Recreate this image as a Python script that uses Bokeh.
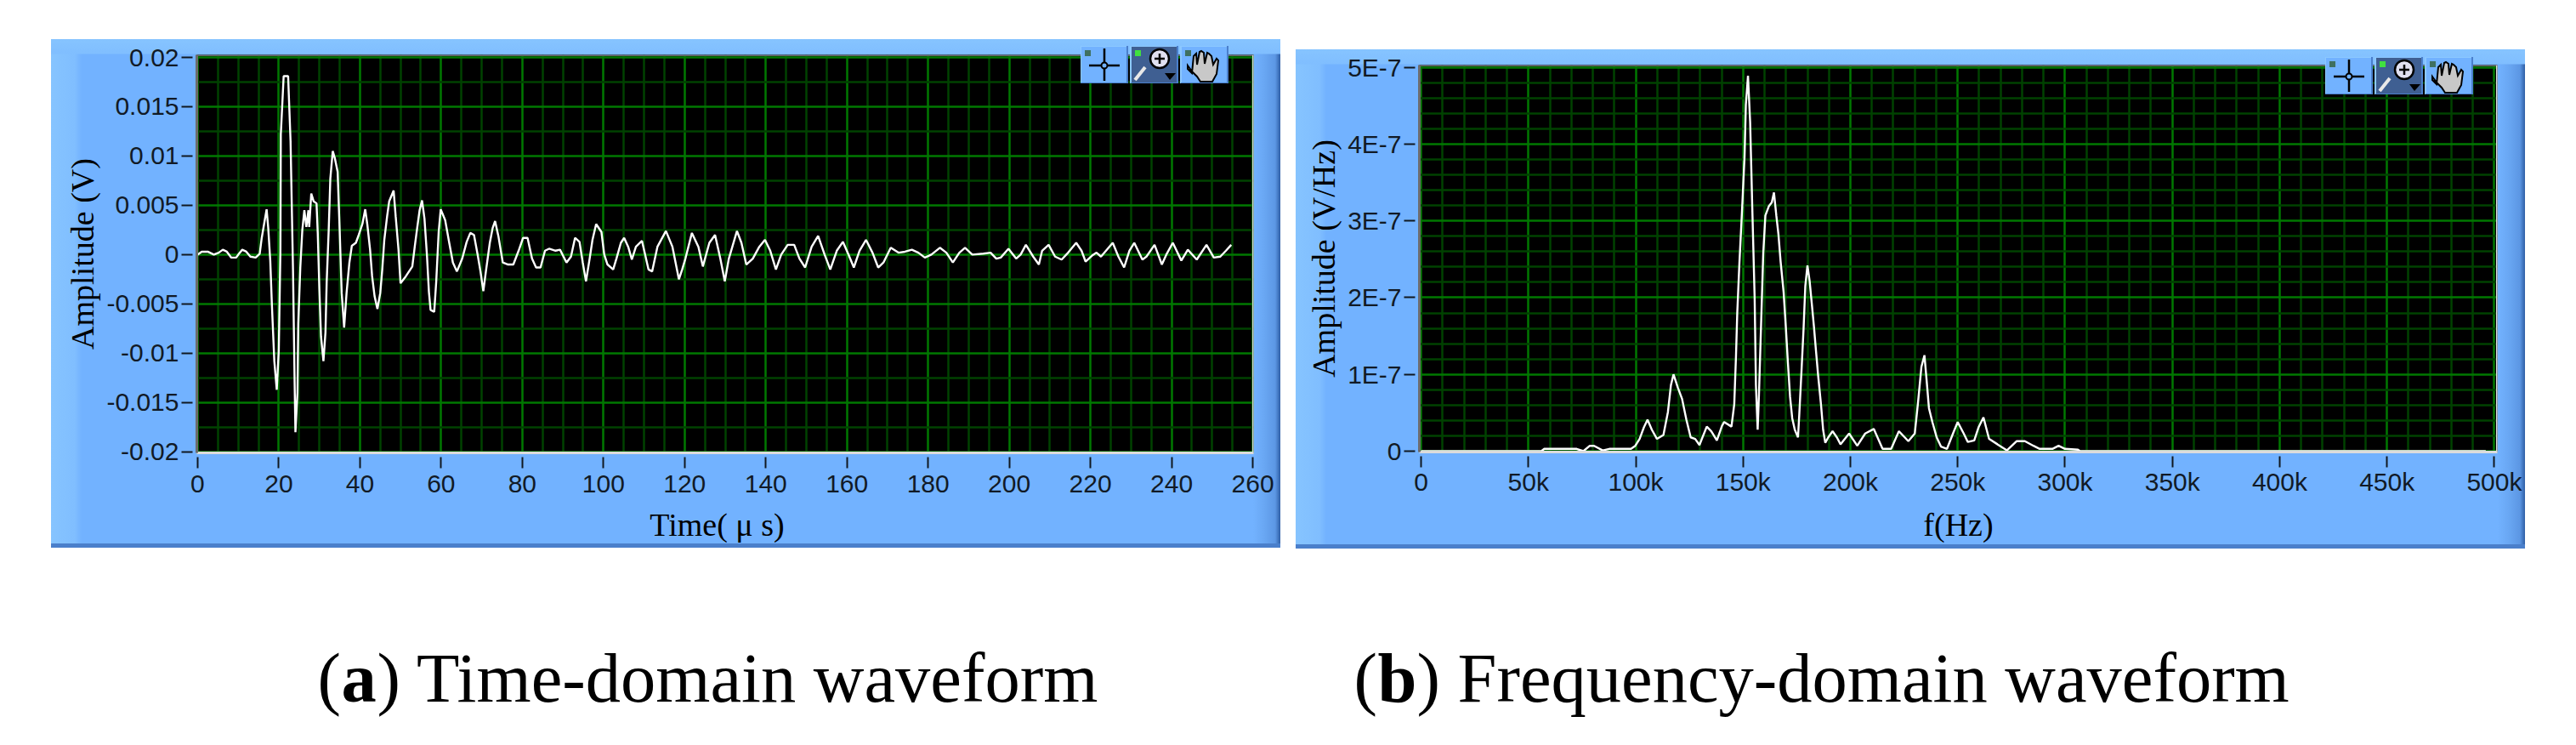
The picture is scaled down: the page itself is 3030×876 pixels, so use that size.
from bokeh.embed import file_html
from bokeh.layouts import column, row
from bokeh.models import Div, FixedTicker, Label, Range1d, Span, Spacer
from bokeh.plotting import figure
from bokeh.resources import INLINE

# time-domain waveform
time_us = [0, 1, 2.5, 4, 5.2, 6.2, 7.2, 8.3, 9.5, 10.2, 11, 12, 13, 14.3, 15.3, 15.8, 16.5, 17, 17.4, 17.9, 18.3,
           18.9, 19.5, 20, 20.4, 20.5, 21.2, 22.3, 22.9, 23.5, 23.9, 24.1, 24.6, 24.8, 25.3, 25.8, 26.3, 26.8, 27.3,
           27.5, 28, 28.6, 29.3, 29.6, 30, 30.4, 31, 31.5, 31.8, 32.3, 32.7, 33.3, 33.8, 34.5, 35, 35.5, 36.1, 36.7,
           37.4, 38, 39, 39.7, 40.6, 41.3, 41.8, 42.5, 43, 43.6, 44.3, 45, 45.5, 46, 46.7, 47.2, 48.3, 48.8, 49.5,
           50, 51.3, 52.9, 53.5, 54.1, 54.7, 55.3, 55.9, 56.5, 57, 57.4, 58.3, 58.8, 59.4, 59.9, 61, 62, 62.9, 63.9,
           65.2, 66.3, 67.2, 68.1, 69, 69.7, 70.4, 71.1, 72, 72.7, 73.3, 74.1, 75.2, 76.5, 77.8, 79.1, 80.2, 81.3,
           82.4, 83.4, 84.5, 85.6, 86.6, 88.2, 89.3, 90.9, 92, 93, 94.1, 94.9, 95.7, 96.6, 97.3, 98.2, 99.5, 100.2,
           101, 102.4, 103.2, 104.3, 105.1, 106.1, 107, 108, 109.5, 111.1, 112, 113.3, 115.4, 117, 118.6, 119.4,
           120.2, 121.8, 123.4, 124.5, 126.1, 127.5, 128.8, 129.9, 130.9, 132.9, 134, 135.2, 136.8, 138.4, 139.8,
           141.1, 142.5, 143.8, 145.4, 147, 148.3, 149.7, 151.3, 152.9, 154.5, 155.9, 157.5, 159, 160.4, 161.7,
           163.1, 164.7, 166.3, 167.7, 169, 170.8, 172.7, 174.3, 176, 177.6, 179.2, 180.8, 182.9, 184.5, 186.1,
           187.7, 189.1, 190.9, 193.6, 195.4, 196.8, 197.9, 199.8, 201.7, 202.8, 204.1, 205.9, 207.3, 208.1, 209.7,
           211.3, 212.9, 214.5, 216.5, 217.8, 218.8, 220.4, 221.5, 222.6, 225.5, 226.9, 228.3, 229.6, 230.8, 232.8,
           233.8, 235.8, 237.6, 238.7, 240.3, 242.4, 244, 246.2, 248.6, 250.4, 252, 253.4, 254.7]
amp_mv = [0, 0.3, 0.3, 0, 0.2, 0.5, 0.3, -0.3, -0.3, 0.1, 0.5, 0.3, -0.2, -0.3, 0.1, 1.7, 3.4, 4.6, 2.7, -0.6, -5.1,
          -10.8, -13.7, -9.7, 0.4, 12.2, 18.1, 18.1, 11.5, -1.5, -12.9, -18, -14, -7, -1.3, 2.5, 4.5, 2.8, 4.5,
          2.8, 6.2, 5.4, 5.2, 2.2, -3.5, -8.3, -10.8, -7.9, -2.8, 2.5, 7.7, 10.5, 9.8, 8.4, 2.5, -3.9, -7.4, -3.9,
          -0.8, 0.9, 1.2, 2, 3.1, 4.6, 3.1, 0.5, -2.2, -4.2, -5.5, -3.9, -1.5, 1.5, 3.9, 5.4, 6.5, 3.9, 0.5,
          -2.9, -2.2, -1.2, 0.8, 2.7, 4.5, 5.5, 3.65, 0, -3.8, -5.6, -5.8, -2.7, 2.3, 4.6, 3.5, 1.2, -0.8, -1.7,
          -0.4, 1.3, 2.2, 2, 0, -1.7, -3.7, -1.5, 1.2, 2.7, 3.4, 1.9, -0.8, -1, -1, 0.4, 1.7, 1.7,
          -0.4, -1.3, -1.3, 0.4, 0.6, 0.4, 0.5, -0.8, -0.2, 1.7, 1.3, -0.8, -2.7, -0.4, 1.5, 3.1, 2.3, 0,
          -1, -1.5, -0.4, 1.2, 1.7, 0.8, -0.5, 0.8, 1.4, -1.5, -1.7, 0.8, 2.4, 0.8, -2.5, -1.5,
          -0.4, 2.2, 0.8, -1.2, 1.2, 2, -0.4, -2.7, -0.4, 2.4, 1.2, -1, -0.4, 0.8, 1.5,
          0.4, -1.5, 0, 1, 1, -0.4, -1.3, 0.8, 1.9, 0, -1.5, 0.4, 1.3, 0, -1.3,
          0.4, 1.5, 0.2, -1.3, -0.8, 0.7, 0.2, 0.3, 0.5, 0.2, -0.3, 0, 0.7, 0.2, -0.8,
          0.2, 0.7, 0, 0.1, 0.2, -0.4, -0.3, 0.6, -0.4, 0, 1, -0.2, -1, 0.4, 1,
          -0.2, -0.5, 0.2, 1.2, 0.4, -0.7, -0.1, 0.2, -0.2, 1.2, -0.2, -1.3, 0.4, 1.2, -0.5,
          -0.2, 1, -1, 0, 1.2, -0.6, 0.5, -0.5, 1, -0.3, -0.2, 0.4, 1]
time_ticks = [0, 20, 40, 60, 80, 100, 120, 140, 160, 180, 200, 220, 240, 260]
time_minor = [t for t in range(0, 261, 5) if t % 20 != 0]
amp_ticks = [-20, -15, -10, -5, 0, 5, 10, 15, 20]
amp_labels = ["-0.02", "-0.015", "-0.01", "-0.005", "0", "0.005", "0.01", "0.015", "0.02"]
amp_minor = [-17.5, -12.5, -7.5, -2.5, 2.5, 7.5, 12.5, 17.5]

# frequency-domain waveform
freq_khz = [0, 56, 57.4, 72.5, 75.6, 78.6, 80.6, 84.6, 87.7, 97.8, 99.8, 101.8, 103.8, 105.5, 107.5, 109.9, 112.9,
            115, 116.4, 117.6, 119.6, 121.6, 123.6, 125.6, 127.7, 129.7, 131.1, 133.1, 135.2, 137.8, 140.2, 141.2,
            144.6, 145.9, 146.7, 147.3, 148.3, 149.5, 150.7, 151.3, 152.3, 153.3, 154.3, 155.4, 156, 156.8, 157.4,
            158.4, 159.4, 160.4, 162, 163.4, 164.4, 165.5, 166.5, 167.5, 168.9, 169.9, 170.9, 171.9, 172.9, 174.1,
            175.6, 176.2, 177.2, 178.2, 179, 180, 181, 182, 183, 184, 185, 186.3, 187.3, 188.3, 189.7, 191.7,
            193.7, 195.4, 199.4, 203.2, 206.9, 210.9, 215, 219, 222.6, 227, 230, 231.5, 233.1, 234.5, 235.5, 236.6,
            238.2, 240.2, 242.2, 245, 247.8, 250, 252.8, 254.7, 257.7, 259.7, 262, 264.6, 268.5, 272.9, 277.4,
            281.3, 285.3, 288.2, 294.1, 297, 300, 306, 307, 496]
spec_e7 = [0, 0, 0.03, 0.03, 0, 0.07, 0.07, 0.01, 0.03, 0.03, 0.07, 0.16, 0.31, 0.41, 0.28, 0.16, 0.21,
           0.51, 0.86, 1, 0.83, 0.68, 0.41, 0.18, 0.16, 0.08, 0.18, 0.32, 0.26, 0.14, 0.33, 0.38,
           0.32, 0.61, 1.23, 1.8, 2.45, 3.12, 3.84, 4.51, 4.89, 4.29, 3.17, 2, 0.86, 0.28, 0.73,
           1.65, 2.57, 3.07, 3.19, 3.24, 3.37, 3.07, 2.82, 2.47, 2.07, 1.63, 1.15, 0.71, 0.43, 0.28,
           0.18, 0.48, 1.03, 1.6, 2.15, 2.42, 2.22, 1.93, 1.63, 1.3, 0.98, 0.61, 0.28, 0.11, 0.18, 0.26,
           0.18, 0.09, 0.23, 0.07, 0.23, 0.29, 0.03, 0.03, 0.26, 0.13, 0.23, 0.63, 1.1, 1.25, 0.93, 0.56,
           0.38, 0.18, 0.06, 0.03, 0.23, 0.38, 0.23, 0.12, 0.14, 0.31, 0.44, 0.16, 0.09, 0.01, 0.13,
           0.13, 0.07, 0.03, 0.03, 0.07, 0.03, 0.02, 0, 0]
freq_ticks = [0, 50, 100, 150, 200, 250, 300, 350, 400, 450, 500]
freq_labels = ["0", "50k", "100k", "150k", "200k", "250k", "300k", "350k", "400k", "450k", "500k"]
freq_minor = [f for f in range(0, 501, 10) if f % 50 != 0]
spec_ticks = [0, 1, 2, 3, 4, 5]
spec_labels = ["0", "1E-7", "2E-7", "3E-7", "4E-7", "5E-7"]
spec_minor = [i / 5 for i in range(26) if i % 5 != 0]

MAJOR = "#007800"
MINOR = "#004200"
TICK_FONT = "Liberation Sans"
SERIF = "Liberation Serif"

# raised LabVIEW style panel, painted behind the transparent canvas
PANEL_CSS = ("linear-gradient(to top, #4A7FCB 0, #4A7FCB 5px, transparent 5px), "
             "linear-gradient(to bottom, #86C4FF 0, #80BEFF 17px, transparent 18px), "
             "linear-gradient(to right, #86C4FF 0, #80BEFF 28px, #72B2FF 36px, #72B2FF calc(100% - 32px), "
             "#6AA8F4 calc(100% - 20px), #5C97E4 calc(100% - 6px), #2F5FA6 100%)")

# cursor, zoom and pan buttons of the graph palette
BUTTONS_SVG = """<svg xmlns="http://www.w3.org/2000/svg" width="176" height="44" style="display:block">
<rect width="55" height="44" fill="#72B2FF"/><rect x="59" width="55" height="44" fill="#3F5F92"/>
<rect x="118" width="55" height="44" fill="#72B2FF"/>
<path d="M0 44V0H55M59 44V0H114M118 44V0H173" fill="none" stroke="#8CC8FF" stroke-width="2"/>
<path d="M0 44H55V0M59 44H114V0M118 44H173V0" fill="none" stroke="#4A7FCB" stroke-width="2"/>
<rect x="5" y="5" width="7" height="7" fill="#3F7060"/><rect x="64" y="5" width="7" height="7" fill="#40E040"/>
<rect x="123" y="5" width="7" height="7" fill="#3F7060"/>
<path d="M10 23H46M28 3V41" stroke="black" stroke-width="2.5"/>
<circle cx="28" cy="23" r="3.5" fill="#72B2FF" stroke="black" stroke-width="2"/>
<path d="M76 25L64 40" stroke="#E8E8E8" stroke-width="4"/>
<circle cx="93" cy="15" r="11" fill="#E0E0F0" stroke="black" stroke-width="2.5"/>
<path d="M87 15H99M93 9V21" stroke="black" stroke-width="2.5"/>
<path d="M99 32H112L105 40Z" fill="black"/>
<path d="M131 30L126 23V27L131 32L133 12L136 9L137 22L140 7L142 6L145 8L146 21L149 8L151 9L154 12L156 22L160 15L162 17L160 33L155 42H141L137 36Z"
 fill="#C8C8C8" stroke="black" stroke-width="2"/>
</svg>"""


def graph(frame_w, frame_h, border, x_range, y_range, x_ticks, x_minor, x_labels,
          y_ticks, y_minor, y_labels, x_title, y_title, xs, ys, tick_standoff, title_standoff):
    p = figure(frame_width=frame_w, frame_height=frame_h,
               min_border_left=border[0], min_border_right=border[1],
               min_border_top=border[2], min_border_bottom=border[3],
               x_range=Range1d(*x_range), y_range=Range1d(*y_range),
               toolbar_location=None, output_backend="svg",
               background_fill_color="black", border_fill_alpha=0,
               styles={"background": PANEL_CSS})
    p.outline_line_color = None

    p.xaxis.ticker = FixedTicker(ticks=x_ticks, minor_ticks=x_minor)
    p.yaxis.ticker = FixedTicker(ticks=y_ticks, minor_ticks=y_minor)
    p.xaxis.major_label_overrides = x_labels
    p.yaxis.major_label_overrides = y_labels
    for ax in [p.xaxis[0], p.yaxis[0]]:
        ax.minor_tick_line_color = None
        ax.major_tick_line_color = "#101820"
        ax.major_tick_line_width = 2
        ax.major_tick_in = -5
        ax.major_label_text_font = TICK_FONT
        ax.major_label_text_font_size = "30px"
        ax.major_label_text_color = "#111a26"
        ax.axis_label_text_font = SERIF
        ax.axis_label_text_font_style = "normal"
        ax.axis_label_text_font_size = "38px"
        ax.axis_label_text_color = "black"
    p.xaxis.major_tick_out = 18
    p.yaxis.major_tick_out = 18
    p.xaxis.major_label_standoff = tick_standoff
    p.yaxis.major_label_standoff = 3
    p.xaxis.axis_label = x_title
    p.yaxis.axis_label = y_title
    p.xaxis.axis_label_standoff = title_standoff
    p.yaxis.axis_label_standoff = 4
    p.xaxis.axis_line_color = "#DCDCDC"
    p.xaxis.axis_line_width = 3
    p.yaxis.axis_line_color = "#6C6C6C"
    p.yaxis.axis_line_width = 3

    for g in [p.xgrid[0], p.ygrid[0]]:
        g.grid_line_color = MAJOR
        g.grid_line_width = 2.5
        g.minor_grid_line_color = MINOR
        g.minor_grid_line_width = 2.5

    p.add_layout(Span(location=y_range[1], dimension="width", line_color="#6C6C6C", line_width=3))
    p.add_layout(Span(location=x_range[1], dimension="height", line_color="#DCDCDC", line_width=3))

    p.line(xs, ys, line_color="white", line_width=2.4)
    return p


def palette(left, top):
    return Div(text=BUTTONS_SVG, width=176, height=44, margin=0,
               styles={"position": "absolute", "left": f"{left}px", "top": f"{top}px"})


p1 = graph(1243, 468, (171, 32, 18, 112), (-0.2, 260.2), (-20.1, 20.26),
           time_ticks, time_minor, {}, amp_ticks, amp_minor, dict(zip(amp_ticks, amp_labels)),
           "Time( \u03bc s)\u00a0\u00a0", "Amplitude (V)", time_us, amp_mv, 8, 14)
p2 = graph(1268, 455, (145, 33, 18, 114), (-0.8, 501.4), (-0.011, 5.03),
           freq_ticks, freq_minor, dict(zip(freq_ticks, freq_labels)), spec_ticks, spec_minor,
           dict(zip(spec_ticks, spec_labels)), "f(Hz)", "Amplitude (V/Hz)", freq_khz, spec_e7, 0, 10)

# captions under the graphs
caps = figure(width=3014, height=215, x_range=Range1d(0, 3014), y_range=Range1d(0, 215),
              min_border=0, toolbar_location=None, output_backend="svg",
              x_axis_location=None, y_axis_location=None)
caps.grid.visible = False
caps.outline_line_color = None
for x, text, style in [(373, "(", "normal"), (401, "a", "bold"), (443, ") Time-domain waveform", "normal"),
                       (1592, "(", "normal"), (1620, "b", "bold"), (1666, ") Frequency-domain waveform", "normal")]:
    caps.add_layout(Label(x=x, y=64, x_units="screen", y_units="screen", text=text,
                          text_font=SERIF, text_font_size="82.5px", text_font_style=style,
                          text_color="black", text_baseline="alphabetic"))

page = column(row(Spacer(width=60),
                  column(Spacer(height=46), p1, palette(1211, 54)),
                  Spacer(width=18),
                  column(Spacer(height=58), p2, palette(1211, 67))),
              caps)

open("out.html", "w").write(file_html(page, INLINE))
